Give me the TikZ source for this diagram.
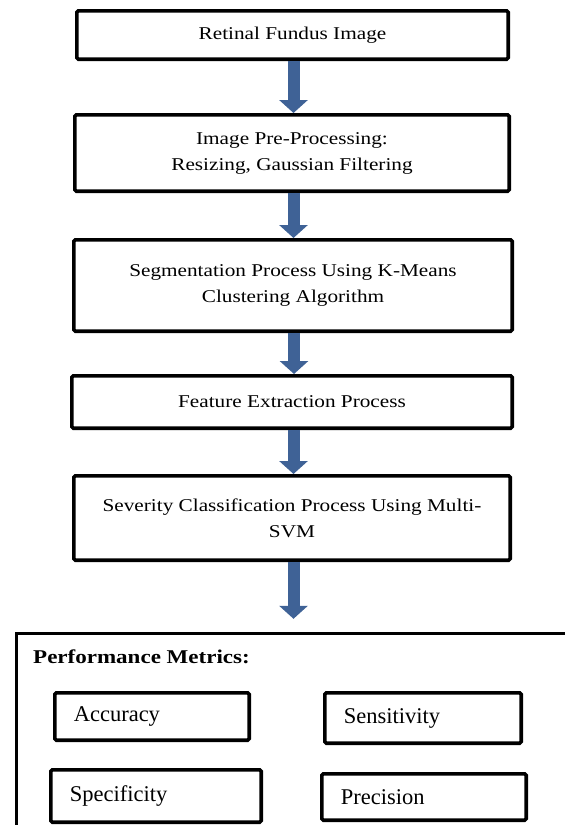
\documentclass[tikz,border=0pt]{standalone}
\usepackage{fontspec}
\setmainfont{Liberation Serif}
\newfontfamily\flowfont[FakeStretch=1.18]{Liberation Serif}
\usetikzlibrary{arrows.meta}
\definecolor{arrowblue}{HTML}{3F6296}

\begin{document}
\begin{tikzpicture}[x=1pt,y=-1pt,
  stage/.style={draw=black, line width=3.6pt, rounded corners=1.5pt, fill=white,
    align=center, inner sep=0pt, font=\flowfont\fontsize{18}{26}\selectfont},
  metric/.style={draw=black, line width=3.6pt, rounded corners=1.5pt, align=left,
    inner xsep=19pt, inner ysep=0pt, font=\fontsize{22.5}{27}\selectfont},
  panel/.style={draw=black, line width=3.6pt, anchor=north west, inner sep=0pt},
  flowarrow/.style={draw=arrowblue, line width=12pt,
    -{Triangle[width=28pt,length=13pt]}}
]
\useasboundingbox (0,0) rectangle (565,825);
\clip (0,0) rectangle (565,825);

% processing stages
\node[stage, minimum width=431.4pt, minimum height=48.4pt] (b1) at (292.5,35)
  {Retinal Fundus Image};
\node[stage, minimum width=434.4pt, minimum height=76.4pt] (b2) at (292,153)
  {Image Pre-Processing:\\Resizing, Gaussian Filtering};
\node[stage, minimum width=438.4pt, minimum height=91.4pt] (b3) at (293,285.5)
  {Segmentation Process Using K-Means\\Clustering Algorithm};
\node[stage, minimum width=440.4pt, minimum height=52.4pt] (b4) at (292,402)
  {Feature Extraction Process};
\node[stage, minimum width=436.4pt, minimum height=84.4pt] (b5) at (292,518)
  {Severity Classification Process Using Multi-\\SVM};

% evaluation panel
\node[panel, minimum width=620pt, minimum height=260pt] (perf) at (14.8,631.8) {};
\node[anchor=base west, inner sep=0pt, font=\flowfont\bfseries\fontsize{19.5}{24}\selectfont]
  (title) at (33,663.5) {Performance Metrics:};

\node[metric, text width=156.4pt, minimum height=47.4pt] (acc) at (152,716.5) {Accuracy};
\node[metric, text width=158.4pt, minimum height=50.4pt] (sens) at (423,718) {Sensitivity};
\node[metric, text width=172.4pt, minimum height=52.4pt] (spec) at (156,796) {Specificity};
\node[metric, text width=166.4pt, minimum height=46.4pt] (prec) at (424,797) {Precision};

% flow arrows
\draw[flowarrow] ([xshift=1pt]b1.south) -- ([xshift=1pt]b1.south |- b2.north);
\draw[flowarrow] ([xshift=1.5pt]b2.south) -- ([xshift=1.5pt]b2.south |- b3.north);
\draw[flowarrow] ([xshift=1pt]b3.south) -- ([xshift=1pt]b3.south |- b4.north);
\draw[flowarrow] ([xshift=1.5pt]b4.south) -- ([xshift=1.5pt]b4.south |- b5.north);
\draw[flowarrow, shorten >=13pt] ([xshift=1.5pt]b5.south) -- ([xshift=1.5pt]b5.south |- perf.north);
\end{tikzpicture}
\end{document}
